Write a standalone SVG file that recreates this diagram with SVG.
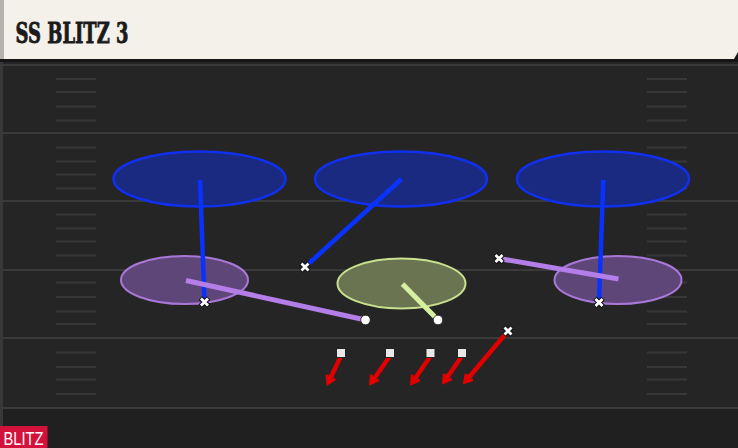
<svg xmlns="http://www.w3.org/2000/svg" width="738" height="448" viewBox="0 0 738 448">
<defs>
<style>
.yard{stroke:#3a3a3a;stroke-width:2}
.hash{stroke:#383838;stroke-width:2}
.zoneB{fill:#1a2a80;stroke:#1030ee;stroke-width:2.5}
.zoneP{fill:#5e4678;stroke:#a878d8;stroke-width:2}
.zoneG{fill:#6b7450;stroke:#c9e08f;stroke-width:2}
.blue{stroke:#0a32ff;stroke-width:4.5;fill:none}
.purp{stroke:#b47ee8;stroke-width:5;fill:none}
.grn{stroke:#d6f0a0;stroke-width:5;fill:none}
.red{stroke:#e00000;stroke-width:4.5;fill:none}
.dot{fill:#ffffff;stroke:#111;stroke-width:0.8}
.sq{fill:#e8e8e8;stroke:#222;stroke-width:1}
</style>
<marker id="ah" viewBox="0 0 12 12" refX="9" refY="6" markerWidth="12" markerHeight="12" markerUnits="userSpaceOnUse" orient="auto">
<path d="M2,1.5 L9.5,6 L2,10.5" fill="none" stroke="#e00000" stroke-width="3"/>
</marker>
<g id="xm">
<path d="M-4,-4 L4,4 M-4,4 L4,-4" stroke="#111" stroke-width="5"/>
<path d="M-3.5,-3.5 L3.5,3.5 M-3.5,3.5 L3.5,-3.5" stroke="#fff" stroke-width="2.8"/>
</g>
</defs>
<rect x="0" y="0" width="738" height="448" fill="#252525"/>
<rect x="0" y="408" width="738" height="40" fill="#202020"/>
<rect x="0" y="60" width="3" height="388" fill="#383838"/>
<g id="field">
<line class="yard" x1="0" y1="65" x2="738" y2="65"/>
<line class="yard" x1="0" y1="133" x2="738" y2="133"/>
<line class="yard" x1="0" y1="201" x2="738" y2="201"/>
<line class="yard" x1="0" y1="270" x2="738" y2="270"/>
<line class="yard" x1="0" y1="338" x2="738" y2="338"/>
<line class="yard" x1="0" y1="408" x2="738" y2="408"/>
<g id="hashL">
<line class="hash" x1="56" y1="79" x2="96" y2="79"/>
<line class="hash" x1="56" y1="92" x2="96" y2="92"/>
<line class="hash" x1="56" y1="106.5" x2="96" y2="106.5"/>
<line class="hash" x1="56" y1="120.5" x2="96" y2="120.5"/>
<line class="hash" x1="56" y1="147.5" x2="96" y2="147.5"/>
<line class="hash" x1="56" y1="161.5" x2="96" y2="161.5"/>
<line class="hash" x1="56" y1="174.5" x2="96" y2="174.5"/>
<line class="hash" x1="56" y1="188.5" x2="96" y2="188.5"/>
<line class="hash" x1="56" y1="214.5" x2="96" y2="214.5"/>
<line class="hash" x1="56" y1="228.5" x2="96" y2="228.5"/>
<line class="hash" x1="56" y1="241.5" x2="96" y2="241.5"/>
<line class="hash" x1="56" y1="255.5" x2="96" y2="255.5"/>
<line class="hash" x1="56" y1="282.5" x2="96" y2="282.5"/>
<line class="hash" x1="56" y1="297" x2="96" y2="297"/>
<line class="hash" x1="56" y1="311.5" x2="96" y2="311.5"/>
<line class="hash" x1="56" y1="324" x2="96" y2="324"/>
<line class="hash" x1="56" y1="352.5" x2="96" y2="352.5"/>
<line class="hash" x1="56" y1="367" x2="96" y2="367"/>
<line class="hash" x1="56" y1="379.5" x2="96" y2="379.5"/>
<line class="hash" x1="56" y1="394" x2="96" y2="394"/>
</g>
<use href="#hashL" x="591"/>
</g>
<g id="titlebar">
<rect x="0" y="0" width="738" height="62" fill="#161616"/>
<path d="M0,0 H738 V52 L734,59 H0 Z" fill="#f4f1ea"/>
<rect x="0" y="0" width="4" height="59" fill="#b5b3ae"/>
<text x="15.5" y="42.5" font-family="'DejaVu Serif', serif" font-weight="bold" font-size="27.5" textLength="113" lengthAdjust="spacingAndGlyphs" fill="#1b1b1b" stroke="#1b1b1b" stroke-width="0.9">SS BLITZ 3</text>
</g>
<g id="zone-deep-left"><ellipse class="zoneB" cx="199.5" cy="179" rx="86" ry="27.5"/></g>
<g id="zone-deep-middle"><ellipse class="zoneB" cx="401" cy="179" rx="86" ry="27.5"/></g>
<g id="zone-deep-right"><ellipse class="zoneB" cx="603" cy="179" rx="86" ry="27.5"/></g>
<g id="zone-flat-left"><ellipse class="zoneP" cx="184.5" cy="280" rx="63.5" ry="24"/></g>
<g id="zone-flat-right"><ellipse class="zoneP" cx="618" cy="280" rx="63.5" ry="24"/></g>
<g id="zone-hook"><ellipse class="zoneG" cx="401.5" cy="283.5" rx="64" ry="25"/></g>
<g id="connectors">
<line class="blue" x1="200" y1="180" x2="204.5" y2="302"/>
<line class="blue" x1="401.5" y1="179" x2="305" y2="267"/>
<line class="blue" x1="603.3" y1="180" x2="599" y2="302.5"/>
<line class="purp" x1="186" y1="280.5" x2="365.5" y2="320"/>
<line class="purp" x1="499" y1="258.5" x2="618.5" y2="279"/>
<line class="grn" x1="402.5" y1="284" x2="438" y2="320"/>
<line class="red" x1="341" y1="356" x2="328" y2="383" marker-end="url(#ah)"/>
<line class="red" x1="390" y1="356" x2="371" y2="383" marker-end="url(#ah)"/>
<line class="red" x1="430.5" y1="356" x2="412" y2="383" marker-end="url(#ah)"/>
<line class="red" x1="462" y1="356" x2="444" y2="382" marker-end="url(#ah)"/>
<line class="red" x1="508" y1="331" x2="465" y2="382" marker-end="url(#ah)"/>
</g>
<g id="players">
<use href="#xm" x="204.5" y="302"/>
<use href="#xm" x="305" y="267"/>
<use href="#xm" x="599" y="302.5"/>
<use href="#xm" x="499" y="258.5"/>
<use href="#xm" x="508" y="331"/>
<circle class="dot" cx="365.5" cy="320" r="4.8"/>
<circle class="dot" cx="438" cy="320" r="4.8"/>
<rect class="sq" x="336.5" y="348.5" width="9" height="9"/>
<rect class="sq" x="385.5" y="348.5" width="9" height="9"/>
<rect class="sq" x="426" y="348.5" width="9" height="9"/>
<rect class="sq" x="457.5" y="348.5" width="9" height="9"/>
</g>
<g id="badge">
<rect x="0" y="426" width="47.5" height="22" fill="#d3123b"/>
<text x="23.5" y="445" text-anchor="middle" font-family="'Liberation Sans', Arial, sans-serif" font-size="18.5" textLength="40" lengthAdjust="spacingAndGlyphs" fill="#ffffff">BLITZ</text>
</g>
</svg>
